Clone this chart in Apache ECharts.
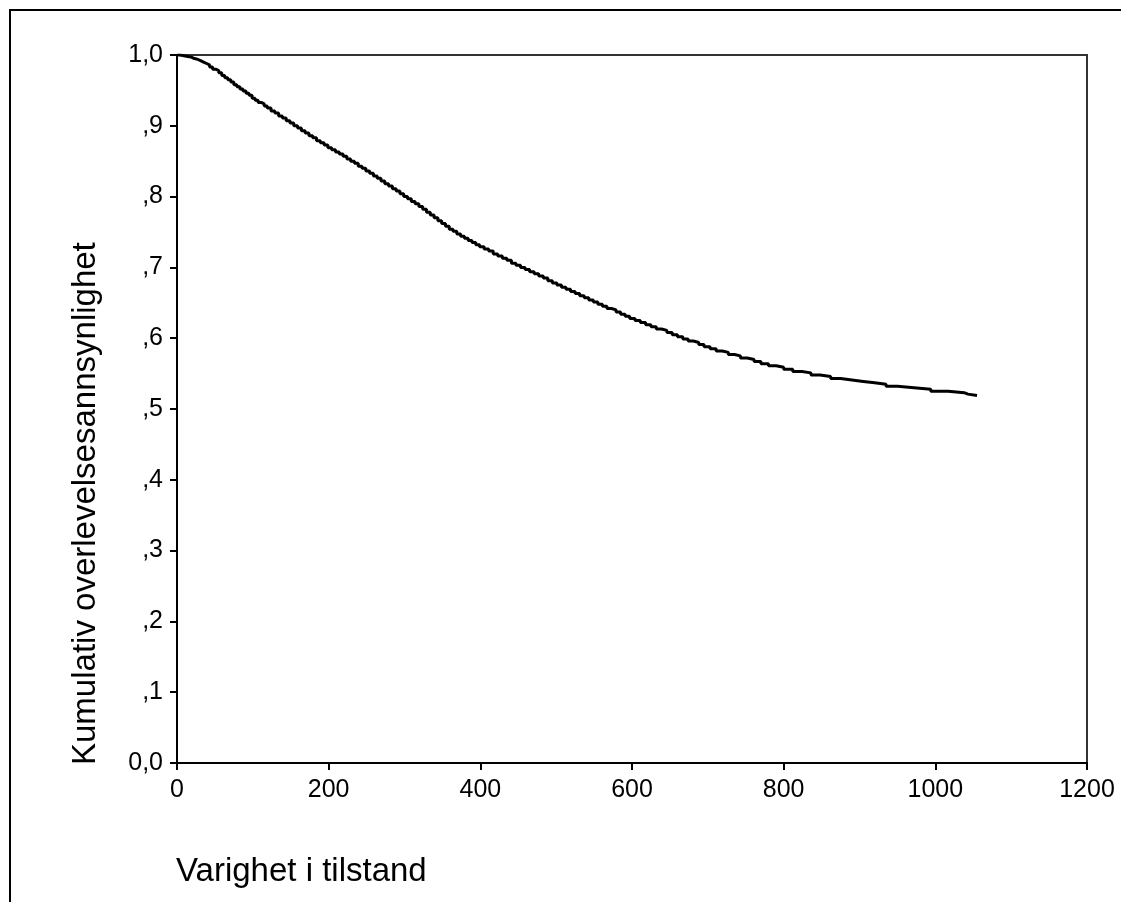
<!DOCTYPE html>
<html>
<head>
<meta charset="utf-8">
<script src="https://cdn.jsdelivr.net/npm/echarts@6/dist/echarts.min.js"></script>
<style>
html,body{margin:0;padding:0;background:#fff;}
#chart{width:1121px;height:902px;}
</style>
</head>
<body>
<div id="chart"></div>
<script>
// Time (days) at each step of the Kaplan-Meier curve
const times = [
  0, 4, 9, 14, 19, 23, 27, 31, 35, 39,
  43, 47, 51, 55, 59, 63, 67, 71, 75, 79,
  83, 87, 91, 95, 99, 103, 107, 111, 115, 119,
  124, 129, 134, 139, 144, 149, 154, 159, 164, 169,
  174, 179, 184, 189, 194, 199, 204, 209, 214, 219,
  224, 229, 234, 239, 244, 249, 254, 259, 264, 269,
  274, 279, 284, 289, 294, 299, 304, 309, 314, 319,
  324, 329, 334, 339, 344, 349, 354, 359, 364, 369,
  374, 379, 384, 389, 394, 399, 405, 411, 417, 423,
  429, 435, 441, 447, 453, 459, 465, 471, 477, 483,
  489, 495, 501, 507, 513, 519, 525, 531, 537, 543,
  549, 555, 561, 567, 573, 579, 585, 591, 597, 604,
  611, 618, 625, 632, 639, 646, 653, 660, 667, 674,
  681, 688, 695, 703, 711, 719, 727, 735, 743, 752,
  761, 770, 780, 790, 800, 812, 824, 836, 848, 862,
  875, 890, 905, 920, 935, 950, 972, 994, 1017, 1038,
  1043, 1055];
// Cumulative survival probability
const survival = [
  1.000, 0.999, 0.998, 0.997, 0.995, 0.994, 0.992, 0.990, 0.988, 0.986,
  0.983, 0.980, 0.978, 0.975, 0.971, 0.968, 0.965, 0.962, 0.958, 0.955,
  0.952, 0.949, 0.946, 0.943, 0.939, 0.936, 0.933, 0.931, 0.928, 0.925,
  0.921, 0.918, 0.914, 0.911, 0.907, 0.904, 0.900, 0.897, 0.893, 0.890,
  0.886, 0.883, 0.879, 0.876, 0.873, 0.869, 0.866, 0.863, 0.860, 0.857,
  0.853, 0.850, 0.847, 0.843, 0.840, 0.836, 0.833, 0.829, 0.826, 0.822,
  0.818, 0.815, 0.811, 0.808, 0.804, 0.800, 0.797, 0.793, 0.790, 0.786,
  0.782, 0.778, 0.774, 0.770, 0.766, 0.762, 0.758, 0.754, 0.751, 0.747,
  0.744, 0.741, 0.738, 0.735, 0.732, 0.729, 0.726, 0.723, 0.719, 0.716,
  0.713, 0.710, 0.706, 0.703, 0.700, 0.697, 0.694, 0.691, 0.688, 0.685,
  0.681, 0.678, 0.675, 0.672, 0.669, 0.666, 0.663, 0.660, 0.657, 0.654,
  0.651, 0.648, 0.645, 0.642, 0.640, 0.637, 0.634, 0.631, 0.628, 0.625,
  0.622, 0.619, 0.616, 0.613, 0.611, 0.608, 0.605, 0.602, 0.599, 0.596,
  0.594, 0.591, 0.588, 0.585, 0.582, 0.580, 0.577, 0.575, 0.572, 0.570,
  0.567, 0.564, 0.561, 0.559, 0.556, 0.553, 0.551, 0.548, 0.546, 0.543,
  0.541, 0.539, 0.537, 0.535, 0.532, 0.530, 0.528, 0.525, 0.523, 0.521,
  0.519, 0.519];
const yTickLabels = ['0,0', ',1', ',2', ',3', ',4', ',5', ',6', ',7', ',8', ',9', '1,0'];
const xTitle = 'Varighet i tilstand';
const yTitle = 'Kumulativ overlevelsesannsynlighet';

const chart = echarts.init(document.getElementById('chart'), null, {renderer: 'canvas'});
const font = 'Liberation Sans, Arial, sans-serif';
const seriesData = times.map((t, i) => [t, survival[i]]);

chart.setOption({
  animation: false,
  backgroundColor: '#fff',
  grid: {left: 177, right: 34, top: 55, bottom: 139, show: true, borderColor: '#333', borderWidth: 2, backgroundColor: 'transparent'},
  xAxis: {
    type: 'value', min: 0, max: 1200, interval: 200,
    axisLine: {show: true, lineStyle: {color: '#000', width: 2}},
    axisTick: {show: true, length: 7, lineStyle: {color: '#000', width: 2}},
    axisLabel: {color: '#000', fontSize: 25, fontFamily: font, margin: 15,
      formatter: function (v) { return String(v); }},
    splitLine: {show: false}
  },
  yAxis: {
    type: 'value', min: 0, max: 1, interval: 0.1,
    axisLine: {show: true, lineStyle: {color: '#000', width: 2}},
    axisTick: {show: true, length: 7, lineStyle: {color: '#000', width: 2}},
    axisLabel: {color: '#000', fontSize: 25, fontFamily: font, margin: 14,
      formatter: function (v) { return yTickLabels[Math.round(v * 10)]; }},
    splitLine: {show: false}
  },
  graphic: [
    {type: 'polyline', shape: {points: [[10, 902], [10, 10], [1121, 10]]}, style: {stroke: '#000', lineWidth: 2, fill: null}, silent: true},
    {type: 'text', x: 176, y: 872, style: {text: xTitle, font: '33px ' + font, fill: '#000', textAlign: 'left', textVerticalAlign: 'middle'}},
    {type: 'text', x: 86, y: 765, rotation: Math.PI / 2, style: {text: yTitle, font: '33px ' + font, fill: '#000', textAlign: 'left', textVerticalAlign: 'middle'}}
  ],
  series: [{
    type: 'line', step: 'end', data: seriesData, showSymbol: false, symbol: 'none',
    lineStyle: {color: '#000', width: 3}, clip: true
  }]
});
</script>
</body>
</html>
